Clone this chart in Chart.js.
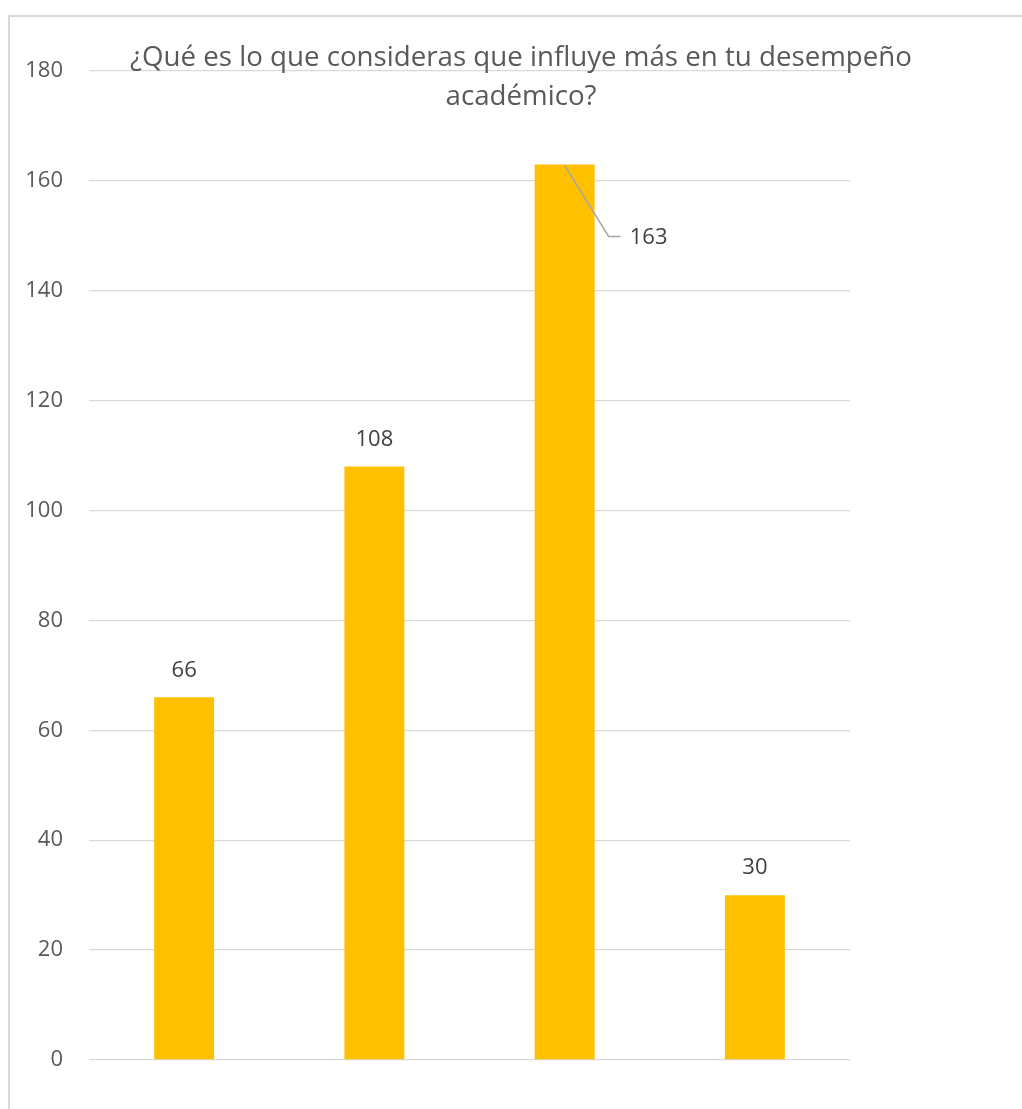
<!DOCTYPE html>
<html>
<head>
<meta charset="utf-8">
<script src="https://cdn.jsdelivr.net/npm/chart.js@4.4.1/dist/chart.umd.min.js"></script>
<style>
  html, body { margin: 0; padding: 0; background: #fff; overflow: hidden; }
  #wrap { position: relative; width: 1022px; height: 1109px; }
  #frame { position: absolute; left: 8px; top: 15px; width: 1100px; height: 1200px;
           border-left: 2px solid #d9d9d9; border-top: 2px solid #d9d9d9; box-sizing: border-box; }
  canvas { position: absolute; left: 0; top: 0; }
</style>
</head>
<body>
<div id="wrap">
  <div id="frame"></div>
  <canvas id="chart" width="1022" height="1109"></canvas>
</div>
<script>
const titleLines = ['¿Qué es lo que consideras que influye más en tu desempeño', 'académico?'];
const categories = ['Opción 1', 'Opción 2', 'Opción 3', 'Opción 4'];
const responses = [66, 108, 163, 30];
const yTicks = [0, 20, 40, 60, 80, 100, 120, 140, 160, 180];

const FONT = '"Open Sans", "Noto Sans", sans-serif';

// Title text, drawn over the plot so the top gridline runs beneath it
const titlePlugin = {
    id: 'excelTitle',
    afterDraw(chart) {
        const ctx = chart.ctx;
        ctx.save();
        ctx.fillStyle = '#595959';
        ctx.font = '27.7px ' + FONT;
        ctx.textAlign = 'center';
        ctx.textBaseline = 'middle';
        ctx.fillText(titleLines[0], 521, 58);
        ctx.fillText(titleLines[1], 521, 97);
        ctx.restore();
    }
};

// Value labels above each bar; the tallest one is pulled out with a leader line
const valueLabels = {
    id: 'valueLabels',
    afterDatasetsDraw(chart, args, opts) {
        const ctx = chart.ctx;
        const meta = chart.getDatasetMeta(0);
        ctx.save();
        ctx.font = '22px ' + FONT;
        ctx.fillStyle = '#404040';
        ctx.textAlign = 'center';
        ctx.textBaseline = 'middle';
        meta.data.forEach((bar, i) => {
            const v = chart.data.datasets[0].data[i];
            const moved = opts.moved[i];
            if (moved) {
                const lx = bar.x + moved.dx;
                const ly = bar.y + moved.dy;
                ctx.strokeStyle = '#a6a6a6';
                ctx.lineWidth = 1.5;
                ctx.beginPath();
                ctx.moveTo(bar.x, bar.y + 1);
                ctx.lineTo(lx - 40, ly - 1);
                ctx.lineTo(lx - 28, ly - 1);
                ctx.stroke();
                ctx.fillText(String(v), lx, ly);
            } else {
                ctx.fillText(String(v), bar.x, bar.y - 27);
            }
        });
        ctx.restore();
    }
};

new Chart(document.getElementById('chart'), {
    type: 'bar',
    data: {
        labels: categories,
        datasets: [{
            data: responses,
            backgroundColor: '#ffc000',
            borderWidth: 0,
            barPercentage: 1,
            categoryPercentage: 0.315
        }]
    },
    options: {
        responsive: false,
        animation: false,
        layout: { padding: { left: 0, right: 172, top: 71, bottom: 49 } },
        plugins: {
            legend: { display: false },
            tooltip: { enabled: false },
            valueLabels: { moved: { 2: { dx: 84, dy: 73 } } }
        },
        scales: {
            x: { display: false },
            y: {
                min: 0,
                max: 180,
                afterFit: s => { s.width = 89; },
                afterBuildTicks: s => { s.ticks = yTicks.map(v => ({ value: v })); },
                border: { display: false },
                grid: { color: '#d9d9d9', lineWidth: 1.3, drawTicks: false },
                ticks: { color: '#595959', font: { family: FONT, size: 22 }, padding: 26 }
            }
        }
    },
    plugins: [titlePlugin, valueLabels]
});
</script>
</body>
</html>
